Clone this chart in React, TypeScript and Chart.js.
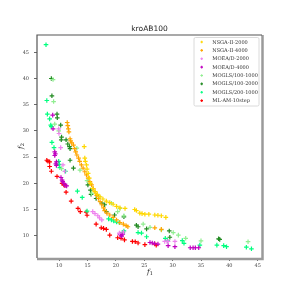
import React, { useEffect, useRef } from "react";
import { Chart, registerables } from "chart.js";

Chart.register(...registerables);

const chartTitle = "kroAB100";
const xTicks = [10, 15, 20, 25, 30, 35, 40, 45];
const yTicks = [10, 15, 20, 25, 30, 35, 40, 45];

const seriesNames = [
  "NSGA-II-2000",
  "NSGA-II-4000",
  "MOEA/D-2000",
  "MOEA/D-4000",
  "MOGLS/100-1000",
  "MOGLS/100-2000",
  "MOGLS/200-1000",
  "ML-AM-10step",
];
const seriesColors = [
  "#ffd700",
  "#ffa500",
  "#ee82ee",
  "#c000c0",
  "#90ee90",
  "#228b22",
  "#00ff7f",
  "#ff0000",
];

const nsga2000 = [
  [14.4, 27.0], [14.5, 24.8], [14.6, 24.2], [14.8, 23.5], [14.9, 22.7], [15.1, 21.9],
  [15.3, 21.0], [15.5, 20.0], [15.9, 19.0], [16.3, 18.4], [16.7, 17.9], [17.2, 17.4],
  [17.7, 17.0], [18.3, 16.6], [18.9, 16.3], [19.5, 16.0], [20.1, 15.6], [20.7, 15.3],
  [21.6, 15.2], [23.3, 15.0], [23.6, 14.8], [24.2, 14.3], [24.6, 14.2], [25.1, 14.1],
  [25.8, 14.1], [26.85, 13.95], [27.4, 13.9], [28.0, 13.8], [28.8, 13.5],
];
const nsga4000 = [
  [11.4, 31.6], [11.5, 31.0], [11.6, 30.4], [11.7, 29.8], [11.9, 28.5], [12.0, 28.1],
  [12.2, 27.7], [12.5, 27.3], [12.7, 26.6], [12.9, 26.0], [13.1, 25.4], [13.4, 24.8],
  [13.6, 24.2], [13.9, 23.5], [14.2, 22.9], [14.5, 22.2], [14.8, 21.6], [15.1, 21.0],
  [15.4, 20.3], [15.7, 19.7], [16.0, 19.0], [16.3, 18.4], [16.6, 17.7], [16.9, 17.1],
  [17.2, 16.5], [17.5, 15.9], [17.8, 15.3], [18.0, 14.8], [18.4, 14.3], [18.9, 13.95],
  [19.5, 13.5], [20.1, 13.0], [20.7, 12.5], [21.3, 12.2], [21.8, 11.9], [22.1, 11.7],
  [26.85, 11.5], [28.0, 11.2],
];
const moead2000 = [
  [9.9, 30.4], [9.95, 29.5], [10.25, 26.8], [10.65, 23.5], [10.95, 22.3], [15.9, 14.6],
  [16.3, 14.2], [16.8, 13.8], [17.1, 13.4], [17.5, 13.0], [20.6, 10.5], [21.3, 10.7],
  [28.6, 8.9], [29.0, 8.9], [29.2, 8.9], [30.4, 8.9],
];
const moead4000 = [
  [8.84, 33.0], [8.9, 30.4], [9.2, 26.0], [9.3, 25.6], [9.2, 25.3], [9.5, 24.1],
  [9.4, 23.7], [9.5, 23.4], [10.3, 21.1], [10.5, 20.6], [10.6, 20.3], [10.8, 20.0],
  [11.0, 19.6], [11.3, 19.5], [20.7, 10.3], [20.9, 10.1], [21.2, 10.3], [21.0, 9.9],
  [26.0, 8.7], [26.4, 8.6], [26.8, 8.5], [27.4, 8.4], [29.2, 8.1], [30.4, 7.9],
  [33.1, 7.7], [33.6, 7.7], [34.0, 7.7], [34.6, 7.7],
];
const mogls100_1000 = [
  [8.9, 39.8], [9.0, 35.6], [9.2, 31.3], [9.9, 30.0], [10.4, 22.8], [13.1, 26.7],
  [13.65, 22.5], [14.9, 20.5], [15.7, 18.1], [17.0, 17.5], [19.2, 16.2], [20.3, 14.6],
  [20.7, 15.2], [21.4, 13.8], [24.8, 12.2], [26.0, 11.6], [28.0, 11.1], [30.1, 10.6],
  [31.0, 10.1], [32.3, 9.5], [35.0, 9.0], [43.3, 8.85],
];
const mogls100_2000 = [
  [8.6, 40.0], [8.7, 36.7], [9.6, 33.2], [9.65, 32.5], [10.25, 31.1], [10.4, 28.8],
  [10.35, 28.3], [11.2, 28.3], [11.5, 27.5], [11.8, 27.0], [11.9, 26.6], [11.9, 24.4],
  [12.5, 22.9], [15.05, 19.7], [15.5, 18.7], [15.6, 17.9], [16.5, 17.1], [17.5, 16.2],
  [18.0, 15.9], [18.3, 14.6], [19.75, 13.95], [21.4, 13.6], [23.6, 12.0], [23.9, 11.7],
  [25.4, 11.3], [29.4, 10.9], [29.5, 9.7], [38.1, 9.4], [38.3, 9.3],
];
const mogls200_1000 = [
  [7.66, 46.45], [7.8, 35.8], [7.9, 33.2], [8.3, 32.3], [8.5, 31.1], [8.6, 30.8],
  [8.7, 27.8], [9.07, 26.8], [9.9, 24.2], [10.0, 23.6], [10.1, 23.0], [11.1, 22.3],
  [13.2, 18.5], [14.05, 17.3], [14.9, 14.7], [18.7, 13.2], [19.2, 13.0], [19.6, 12.8],
  [20.1, 12.6], [20.6, 12.5], [21.2, 10.6], [21.4, 10.9], [23.9, 10.6], [24.5, 10.5],
  [25.4, 9.8], [28.7, 9.5], [29.1, 9.05], [31.7, 9.05], [32.0, 8.55], [34.8, 8.2],
  [37.8, 8.2], [39.0, 8.1], [39.5, 7.9], [43.0, 7.8], [43.9, 7.5],
];
const mlam10step = [
  [7.8, 24.4], [8.0, 24.2], [8.3, 24.1], [8.3, 23.2], [8.6, 22.3], [9.6, 21.3],
  [10.5, 20.0], [10.8, 19.7], [11.0, 19.6], [11.2, 18.3], [12.1, 16.6], [13.3, 15.2],
  [13.7, 14.6], [14.75, 14.5], [14.9, 13.9], [16.5, 12.2], [17.4, 11.5], [17.8, 11.4],
  [18.3, 11.2], [18.9, 10.1], [20.3, 9.6], [20.9, 9.5], [21.5, 9.2], [22.9, 8.9],
  [23.4, 8.85], [23.9, 8.6], [25.1, 8.3], [26.85, 8.4], [27.1, 8.2],
];

const seriesData = [
  nsga2000, nsga4000, moead2000, moead4000,
  mogls100_1000, mogls100_2000, mogls200_1000, mlam10step,
];

const SERIF = "'DejaVu Serif', serif";
const SANS = "'DejaVu Sans', sans-serif";

const decorPlugin = {
  id: "decor",
  afterDraw(chart: any) {
    const { ctx, chartArea } = chart;
    const { left, right, top, bottom } = chartArea;
    ctx.save();
    // frame
    ctx.strokeStyle = "#9a9a9a";
    ctx.lineWidth = 2.5;
    ctx.beginPath();
    ctx.moveTo(right + 0.5, top);
    ctx.lineTo(right + 0.5, bottom + 1);
    ctx.lineTo(left, bottom + 1);
    ctx.stroke();
    ctx.strokeStyle = "#555";
    ctx.lineWidth = 1.2;
    ctx.beginPath();
    ctx.moveTo(left, bottom);
    ctx.lineTo(left, top);
    ctx.lineTo(right, top);
    ctx.stroke();

    // title
    ctx.fillStyle = "#222";
    ctx.font = `7.5px ${SANS}`;
    ctx.textAlign = "center";
    ctx.textBaseline = "middle";
    ctx.fillText(chartTitle, (left + right) / 2, 29);

    // axis labels
    const drawF = (x: number, y: number, sub: string) => {
      ctx.font = `italic 7px ${SERIF}`;
      ctx.textAlign = "right";
      ctx.textBaseline = "middle";
      ctx.fillText("f", x, y);
      ctx.font = `5px ${SERIF}`;
      ctx.textAlign = "left";
      ctx.fillText(sub, x + 0.3, y + 1.8);
    };
    drawF((left + right) / 2, 272, "1");
    ctx.save();
    ctx.translate(21, (top + bottom) / 2);
    ctx.rotate(-Math.PI / 2);
    drawF(0, 0, "2");
    ctx.restore();

    // legend
    const bx = 194, by = 37.5, bw = 65, bh = 68.5;
    ctx.fillStyle = "rgba(255,255,255,0.9)";
    ctx.strokeStyle = "#d0d0d0";
    ctx.lineWidth = 0.8;
    ctx.beginPath();
    ctx.roundRect(bx, by, bw, bh, 1.5);
    ctx.fill();
    ctx.stroke();
    const rowH = 8.38;
    seriesNames.forEach((name, i) => {
      const y = 42 + i * rowH;
      ctx.strokeStyle = seriesColors[i];
      ctx.lineWidth = 1.1;
      ctx.beginPath();
      ctx.moveTo(200.4, y);
      ctx.lineTo(203.0, y);
      ctx.moveTo(201.7, y - 1.3);
      ctx.lineTo(201.7, y + 1.3);
      ctx.stroke();
      ctx.fillStyle = "#333";
      ctx.font = `5px ${SERIF}`;
      ctx.textAlign = "left";
      ctx.textBaseline = "middle";
      ctx.fillText(name, 212.3, y + 0.3);
    });
    ctx.restore();
  },
};

export default function App() {
  const ref = useRef<HTMLCanvasElement | null>(null);
  useEffect(() => {
    if (!ref.current) return;
    const chart = new Chart(ref.current, {
      type: "scatter",
      data: {
        datasets: seriesData.map((pts, i) => ({
          label: seriesNames[i],
          data: pts.map(([x, y]) => ({ x, y })),
          pointStyle: "cross",
          pointRadius: 2.3,
          pointHoverRadius: 2.3,
          pointBorderWidth: 1.2,
          borderColor: seriesColors[i],
          backgroundColor: seriesColors[i],
        })),
      },
      plugins: [decorPlugin],
      options: {
        animation: false,
        responsive: false,
        events: [],
        layout: { padding: { left: 0, top: 35, right: 29, bottom: 0 } },
        plugins: {
          legend: { display: false },
          title: { display: false },
          tooltip: { enabled: false },
        },
        scales: {
          x: {
            type: "linear",
            min: 6.07,
            max: 45.76,
            afterBuildTicks: (s: any) => {
              s.ticks = xTicks.map((v) => ({ value: v }));
            },
            afterFit: (s: any) => {
              s.height = 33;
            },
            border: { display: false },
            grid: {
              display: true,
              drawOnChartArea: false,
              drawTicks: true,
              tickLength: 3,
              color: "#444",
              lineWidth: 0.8,
            },
            ticks: {
              padding: 2,
              color: "#444",
              font: { size: 5, family: SERIF },
              maxRotation: 0,
            },
          },
          y: {
            type: "linear",
            min: 5.74,
            max: 48.3,
            afterBuildTicks: (s: any) => {
              s.ticks = yTicks.map((v) => ({ value: v }));
            },
            afterFit: (s: any) => {
              s.width = 37;
            },
            border: { display: false },
            grid: {
              display: true,
              drawOnChartArea: false,
              drawTicks: true,
              tickLength: 3,
              color: "#444",
              lineWidth: 0.8,
            },
            ticks: {
              padding: 5,
              color: "#444",
              font: { size: 5, family: SERIF },
            },
          },
        },
      },
    });
    return () => chart.destroy();
  }, []);
  return (
    <div style={{ position: "fixed", left: 0, top: 0, width: 291, height: 291, background: "#fff" }}>
      <canvas ref={ref} width={291} height={291} style={{ width: 291, height: 291, display: "block" }} />
    </div>
  );
}
